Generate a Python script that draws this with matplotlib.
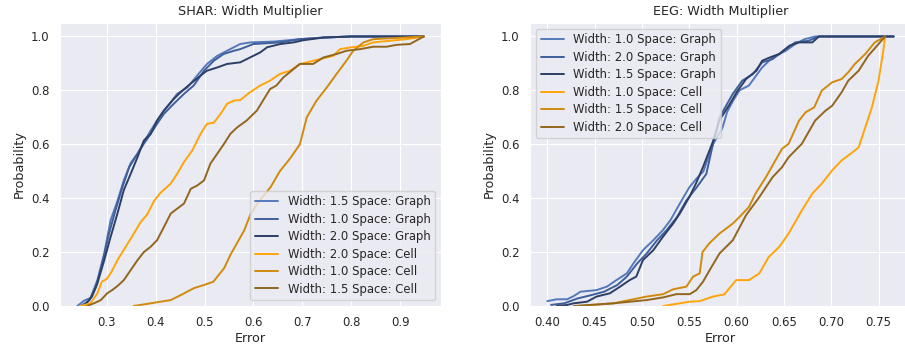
import matplotlib
matplotlib.use("Agg")
import matplotlib.pyplot as plt
import seaborn as sns

# SHAR panel (x = error, y = cumulative probability)
shar_g15_x = [0.240, 0.254, 0.267, 0.281, 0.295, 0.308, 0.322, 0.335, 0.349, 0.363, 0.376, 0.390, 0.403, 0.417,
              0.431, 0.444, 0.465, 0.485, 0.505, 0.526, 0.546, 0.573, 0.594, 0.641, 0.695, 0.743, 0.800, 0.948]
shar_g15_y = [0.0, 0.02, 0.03, 0.096, 0.195, 0.318, 0.39, 0.466, 0.53, 0.565, 0.608, 0.651, 0.688, 0.725,
              0.756, 0.787, 0.811, 0.855, 0.898, 0.928, 0.947, 0.972, 0.978, 0.981, 0.99, 0.996, 1.0, 1.0]
shar_g10_x = [0.247, 0.264, 0.278, 0.291, 0.305, 0.318, 0.332, 0.346, 0.363, 0.376, 0.390, 0.403, 0.417, 0.437,
              0.458, 0.478, 0.499, 0.519, 0.539, 0.560, 0.573, 0.600, 0.655, 0.695, 0.743, 0.800, 0.948]
shar_g10_y = [0.0, 0.02, 0.07, 0.158, 0.27, 0.355, 0.44, 0.515, 0.565, 0.602, 0.639, 0.676, 0.713, 0.75,
              0.787, 0.818, 0.873, 0.91, 0.935, 0.947, 0.953, 0.972, 0.978, 0.99, 0.996, 1.0, 1.0]
shar_g20_x = [0.254, 0.270, 0.281, 0.295, 0.308, 0.322, 0.335, 0.349, 0.363, 0.376, 0.390, 0.403, 0.417, 0.437,
              0.451, 0.471, 0.492, 0.505, 0.526, 0.546, 0.573, 0.593, 0.614, 0.628, 0.655, 0.682, 0.702, 0.743,
              0.800, 0.948]
shar_g20_y = [0.0, 0.035, 0.084, 0.17, 0.256, 0.343, 0.43, 0.49, 0.552, 0.614, 0.639, 0.688, 0.725, 0.768,
              0.793, 0.824, 0.855, 0.873, 0.885, 0.898, 0.904, 0.922, 0.941, 0.96, 0.972, 0.978, 0.986, 0.996,
              1.0, 1.0]
shar_c20_x = [0.247, 0.267, 0.281, 0.290, 0.300, 0.310, 0.322, 0.339, 0.356, 0.369, 0.383, 0.397, 0.410, 0.431,
              0.444, 0.458, 0.475, 0.492, 0.505, 0.519, 0.533, 0.546, 0.560, 0.573, 0.593, 0.614, 0.634, 0.654,
              0.675, 0.695, 0.709, 0.736, 0.763, 0.777, 0.797, 0.824, 0.845, 0.879, 0.913, 0.948]
shar_c20_y = [0.0, 0.01, 0.047, 0.09, 0.10, 0.127, 0.17, 0.22, 0.27, 0.31, 0.34, 0.39, 0.42, 0.454,
              0.49, 0.534, 0.577, 0.639, 0.676, 0.68, 0.713, 0.75, 0.762, 0.764, 0.793, 0.818, 0.836, 0.861,
              0.873, 0.898, 0.904, 0.916, 0.928, 0.953, 0.959, 0.965, 0.978, 0.984, 0.99, 1.0]
shar_c10_x = [0.355, 0.383, 0.410, 0.431, 0.451, 0.478, 0.499, 0.518, 0.540, 0.553, 0.567, 0.581, 0.594, 0.608,
              0.621, 0.635, 0.654, 0.676, 0.695, 0.709, 0.729, 0.750, 0.770, 0.790, 0.804, 0.825, 0.845, 0.948]
shar_c10_y = [0.0, 0.008, 0.016, 0.022, 0.04, 0.066, 0.078, 0.09, 0.14, 0.19, 0.235, 0.28, 0.34, 0.38,
              0.41, 0.441, 0.5, 0.55, 0.60, 0.70, 0.762, 0.811, 0.861, 0.91, 0.947, 0.978, 0.99, 1.0]
shar_c15_x = [0.260, 0.274, 0.288, 0.301, 0.312, 0.322, 0.335, 0.349, 0.363, 0.376, 0.390, 0.403, 0.417, 0.431,
              0.444, 0.458, 0.472, 0.485, 0.499, 0.512, 0.526, 0.540, 0.553, 0.567, 0.586, 0.607, 0.634, 0.647,
              0.661, 0.682, 0.695, 0.722, 0.743, 0.770, 0.790, 0.818, 0.845, 0.872, 0.893, 0.920, 0.948]
shar_c15_y = [0.0, 0.01, 0.022, 0.047, 0.06, 0.074, 0.096, 0.133, 0.17, 0.2, 0.22, 0.244, 0.293, 0.343,
              0.361, 0.38, 0.435, 0.447, 0.466, 0.528, 0.565, 0.602, 0.639, 0.663, 0.688, 0.725, 0.805, 0.818,
              0.848, 0.879, 0.898, 0.898, 0.922, 0.935, 0.947, 0.953, 0.962, 0.962, 0.969, 0.972, 1.0]

# EEG panel
eeg_g10_x = [0.400, 0.410, 0.421, 0.428, 0.435, 0.452, 0.463, 0.473, 0.484, 0.491, 0.501, 0.512, 0.522, 0.530,
             0.540, 0.550, 0.557, 0.565, 0.575, 0.585, 0.590, 0.596, 0.603, 0.613, 0.627, 0.638, 0.652, 0.662,
             0.672, 0.683, 0.766]
eeg_g10_y = [0.018, 0.025, 0.025, 0.037, 0.053, 0.059, 0.072, 0.096, 0.121, 0.158, 0.207, 0.244, 0.281, 0.318,
             0.38, 0.44, 0.47, 0.50, 0.60, 0.66, 0.72, 0.76, 0.80, 0.818, 0.885, 0.922, 0.947, 0.972,
             0.99, 1.0, 1.0]
eeg_g20_x = [0.404, 0.418, 0.432, 0.446, 0.460, 0.474, 0.484, 0.495, 0.505, 0.516, 0.526, 0.537, 0.547, 0.558,
             0.568, 0.575, 0.582, 0.596, 0.606, 0.617, 0.627, 0.638, 0.652, 0.662, 0.676, 0.687, 0.766]
eeg_g20_y = [0.004, 0.01, 0.028, 0.04, 0.053, 0.078, 0.109, 0.158, 0.195, 0.244, 0.281, 0.33, 0.392, 0.441,
             0.49, 0.60, 0.70, 0.787, 0.836, 0.86, 0.904, 0.916, 0.953, 0.978, 0.984, 1.0, 1.0]
eeg_g15_x = [0.410, 0.421, 0.428, 0.442, 0.452, 0.466, 0.477, 0.487, 0.494, 0.501, 0.512, 0.522, 0.533, 0.540,
             0.550, 0.557, 0.565, 0.575, 0.582, 0.593, 0.600, 0.610, 0.621, 0.627, 0.635, 0.645, 0.656, 0.666,
             0.680, 0.687, 0.766]
eeg_g15_y = [0.0, 0.004, 0.01, 0.016, 0.035, 0.047, 0.072, 0.096, 0.109, 0.17, 0.207, 0.256, 0.306, 0.343,
             0.404, 0.454, 0.52, 0.61, 0.69, 0.75, 0.793, 0.842, 0.873, 0.91, 0.922, 0.935, 0.966, 0.978,
             0.978, 1.0, 1.0]
eeg_c10_x = [0.5225, 0.5505, 0.561, 0.575, 0.587, 0.5995, 0.613, 0.624, 0.634, 0.645, 0.655, 0.669, 0.680,
             0.690, 0.701, 0.711, 0.725, 0.729, 0.736, 0.743, 0.750, 0.755, 0.757]
eeg_c10_y = [0.0, 0.016, 0.018, 0.035, 0.043, 0.096, 0.096, 0.121, 0.182, 0.219, 0.269, 0.355, 0.417,
             0.454, 0.503, 0.54, 0.577, 0.589, 0.663, 0.737, 0.836, 0.947, 1.0]
eeg_c15_x = [0.435, 0.470, 0.505, 0.5225, 0.533, 0.547, 0.554, 0.561, 0.564, 0.571, 0.582, 0.596, 0.603, 0.613,
             0.620, 0.631, 0.641, 0.648, 0.655, 0.666, 0.673, 0.682, 0.690, 0.701, 0.711, 0.718, 0.725, 0.736,
             0.746, 0.757]
eeg_c15_y = [0.0, 0.01, 0.035, 0.044, 0.062, 0.072, 0.109, 0.121, 0.2, 0.232, 0.269, 0.306, 0.33, 0.367,
             0.417, 0.478, 0.54, 0.583, 0.602, 0.688, 0.719, 0.737, 0.799, 0.83, 0.842, 0.867, 0.898, 0.935,
             0.978, 1.0]
eeg_c20_x = [0.428, 0.470, 0.505, 0.5225, 0.5365, 0.5505, 0.5575, 0.5645, 0.5715, 0.582, 0.596, 0.610, 0.624,
             0.638, 0.648, 0.655, 0.669, 0.683, 0.694, 0.701, 0.711, 0.718, 0.729, 0.739, 0.750, 0.757]
eeg_c20_y = [0.0, 0.01, 0.022, 0.032, 0.044, 0.044, 0.059, 0.09, 0.133, 0.195, 0.244, 0.337, 0.404,
             0.478, 0.515, 0.552, 0.602, 0.688, 0.725, 0.743, 0.793, 0.836, 0.873, 0.928, 0.972, 1.0]

shar_labels = ["Width: 1.5 Space: Graph", "Width: 1.0 Space: Graph", "Width: 2.0 Space: Graph",
               "Width: 2.0 Space: Cell", "Width: 1.0 Space: Cell", "Width: 1.5 Space: Cell"]
eeg_labels = ["Width: 1.0 Space: Graph", "Width: 2.0 Space: Graph", "Width: 1.5 Space: Graph",
              "Width: 1.0 Space: Cell", "Width: 1.5 Space: Cell", "Width: 2.0 Space: Cell"]

colors = ["#5479bb", "#3f5f9b", "#2d3f66", "#ffa50a", "#d18a0d", "#93661e"]

sns.set_style("darkgrid")
plt.rcParams["font.family"] = ["DejaVu Sans"]

fig = plt.figure(figsize=(9.05, 3.47), dpi=100)
ax1 = fig.add_axes([60 / 905, 41 / 347, 381 / 905, 283 / 347])
ax2 = fig.add_axes([530 / 905, 41 / 347, 381 / 905, 283 / 347])

shar = [(shar_g15_x, shar_g15_y), (shar_g10_x, shar_g10_y), (shar_g20_x, shar_g20_y),
        (shar_c20_x, shar_c20_y), (shar_c10_x, shar_c10_y), (shar_c15_x, shar_c15_y)]
eeg = [(eeg_g10_x, eeg_g10_y), (eeg_g20_x, eeg_g20_y), (eeg_g15_x, eeg_g15_y),
       (eeg_c10_x, eeg_c10_y), (eeg_c15_x, eeg_c15_y), (eeg_c20_x, eeg_c20_y)]

for ax, series, labels, title, loc in [(ax1, shar, shar_labels, "SHAR: Width Multiplier", "lower right"),
                                        (ax2, eeg, eeg_labels, "EEG: Width Multiplier", "upper left")]:
    for (x, y), lab, c in zip(series, labels, colors):
        ax.plot(x, y, color=c, lw=1.4, label=lab)
    ax.set_ylim(0, 1.05)
    ax.set_title(title, fontsize=9.2, color=".15")
    ax.set_xlabel("Error", fontsize=9.2, color=".15", labelpad=2)
    ax.set_ylabel("Probability", fontsize=9.2, color=".15", labelpad=4)
    ax.tick_params(labelsize=8.4, colors=".15", pad=4)
    ax.legend(loc=loc, fontsize=8.4, handlelength=2.0, labelspacing=0.38)

ax1.set_xticks([0.3, 0.4, 0.5, 0.6, 0.7, 0.8, 0.9])
ax2.set_xticks([0.40, 0.45, 0.50, 0.55, 0.60, 0.65, 0.70, 0.75])
ax2.set_xticklabels(["0.40", "0.45", "0.50", "0.55", "0.60", "0.65", "0.70", "0.75"])

fig.savefig("out.png", dpi=100)
